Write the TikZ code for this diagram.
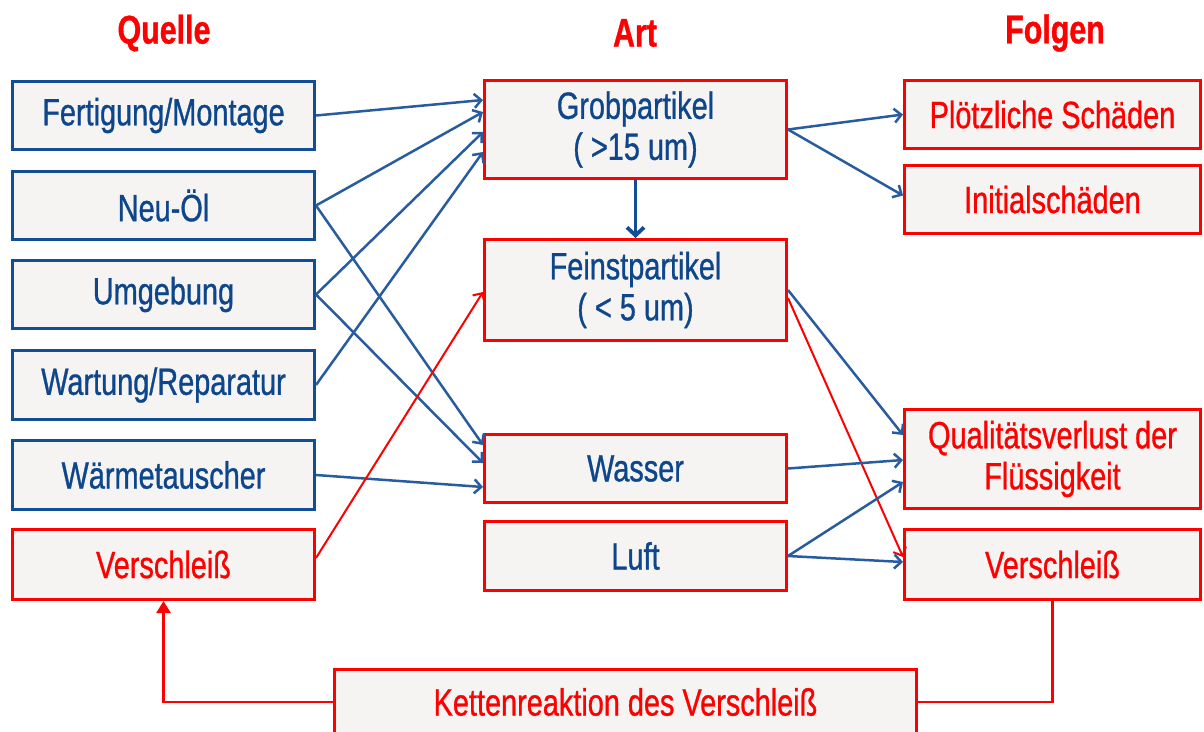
\documentclass[tikz,border=0pt]{standalone}
\usepackage{fontspec}
\setmainfont{Liberation Sans}[FakeStretch=0.76,FakeBold=0.8]
\usetikzlibrary{arrows.meta,calc}
\definecolor{bbord}{RGB}{18,78,150}
\definecolor{btext}{RGB}{14,70,140}
\definecolor{barrow}{RGB}{40,92,160}
\definecolor{rred}{RGB}{255,0,0}
\definecolor{boxfill}{RGB}{245,244,242}
\begin{document}
\begin{tikzpicture}[x=1pt,y=-1pt,
  box/.style={draw,line width=3pt,fill=boxfill,inner sep=0pt,align=center,
    font=\fontsize{38}{41}\selectfont},
  bluebox/.style={box,draw=bbord,text=btext},
  redbox/.style={box,draw=rred,text=rred},
  redblue/.style={box,draw=rred,text=btext},
  header/.style={text=rred,font=\fontsize{40}{44}\selectfont\bfseries},
  barr/.style={draw=barrow,line width=2.5pt,-{Straight Barb[length=7pt,width=14pt]}},
  rarr/.style={draw=rred,line width=2pt,-{Straight Barb[length=7pt,width=14pt]}},
  rline/.style={draw=rred,line width=2.4pt}
]
\useasboundingbox (0,0) rectangle (1204,731);
% headers
\node[header] (hq) at (164,33) {Quelle};
\node[header] (ha) at (635,33) {Art};
\node[header] (hf) at (1055,33) {Folgen};
% left column
\node[bluebox,minimum width=302pt,minimum height=68pt] (fert) at (163.5,115.5) {Fertigung/Montage};
\node[bluebox,minimum width=302pt,minimum height=68pt] (neu) at (163.5,205.5) {Neu-Öl};
\node[bluebox,minimum width=302pt,minimum height=68pt] (umg) at (163.5,294.5) {Umgebung};
\node[bluebox,minimum width=302pt,minimum height=69pt] (wart) at (163.5,385) {Wartung/Reparatur};
\node[bluebox,minimum width=302pt,minimum height=69pt] (waerme) at (163.5,475) {Wärmetauscher};
\node[redbox,minimum width=302pt,minimum height=70pt] (versL) at (163.5,564.5) {Verschleiß};
% middle column
\node[redblue,minimum width=302pt,minimum height=98pt] (grob) at (635.5,129.5) {Grobpartikel\\( >15 um)};
\node[redblue,minimum width=302pt,minimum height=101pt] (feinst) at (635.5,290) {Feinstpartikel\\( < 5 um)};
\node[redblue,minimum width=302pt,minimum height=68pt] (wasser) at (635.5,468.5) {Wasser};
\node[redblue,minimum width=302pt,minimum height=69pt] (luft) at (635.5,556) {Luft};
% right column
\node[redbox,minimum width=296pt,minimum height=68pt] (ploetz) at (1052.5,114.5) {Plötzliche Schäden};
\node[redbox,minimum width=296pt,minimum height=68pt] (initial) at (1052.5,199.5) {Initialschäden};
\node[redbox,minimum width=296pt,minimum height=99pt] (qual) at (1052.5,459) {Qualitätsverlust der\\Flüssigkeit};
\node[redbox,minimum width=296pt,minimum height=70pt] (versR) at (1052.5,564.5) {Verschleiß};
% bottom
\node[redbox,minimum width=582pt,minimum height=66pt] (kette) at (625.5,702) {Kettenreaktion des Verschleiß};
% connectors to Grobpartikel
\draw[barr] (fert.east) -- ($(grob.west)+(0,-29.5)$);
\draw[barr] (neu.east) -- ($(grob.west)+(0,-17.5)$);
\draw[barr] (umg.east) -- ($(grob.west)+(0,2.5)$);
\draw[barr] (wart.east) -- ($(grob.west)+(0,22.5)$);
% connectors to Wasser
\draw[barr] (neu.east) -- ($(wasser.west)+(0,-23.5)$);
\draw[barr] (umg.east) -- ($(wasser.west)+(0,-5.5)$);
\draw[barr] (waerme.east) -- ($(wasser.west)+(0,18.5)$);
% Verschleiss -> Feinstpartikel
\draw[rarr] ($(versL.east)+(0,-6.5)$) -- ($(feinst.west)+(0,2)$);
% Grob -> Feinst
\draw[draw=bbord,line width=3.8pt,-{Straight Barb[length=8pt,width=17pt]}] (grob.south) -- (feinst.north);
% to the right column
\draw[barr] (grob.east) -- (ploetz.west);
\draw[barr] (grob.east) -- ($(initial.west)+(0,-4)$);
\draw[barr] (feinst.east) -- ($(qual.west)+(0,-24)$);
\draw[rarr] ($(feinst.east)+(0,8)$) -- ($(versR.west)+(0,-7.5)$);
\draw[barr] (wasser.east) -- ($(qual.west)+(0,1)$);
\draw[barr] (luft.east) -- ($(qual.west)+(0,23)$);
\draw[barr] (luft.east) -- ($(versR.west)+(0,-2.5)$);
% feedback loop
\draw[rline] (versR.south) |- (kette.east);
\draw[rline,-{Triangle[length=12pt,width=14pt]}] (kette.west) -| (versL.south);
\end{tikzpicture}
\end{document}
